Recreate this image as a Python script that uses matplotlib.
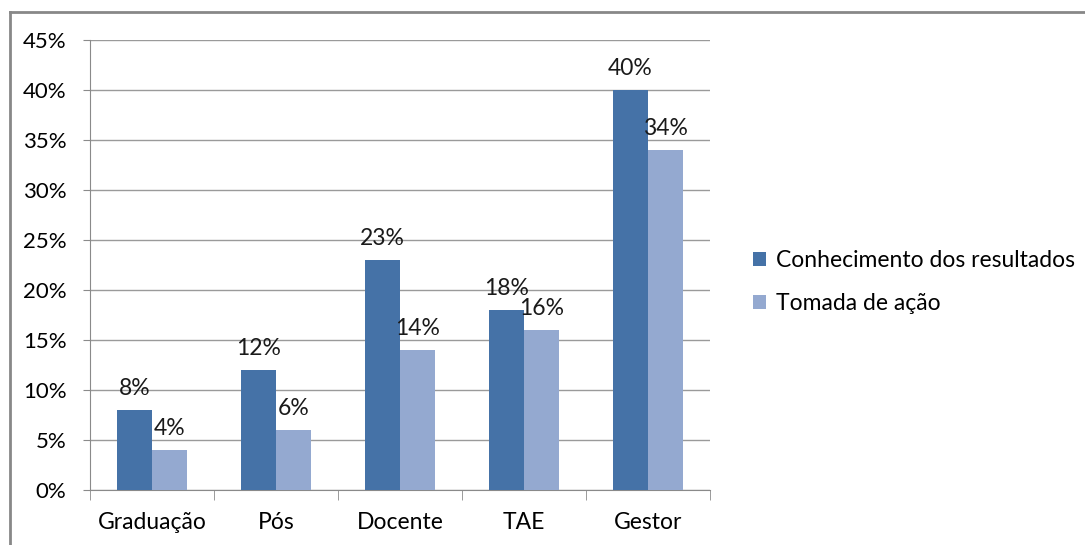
import numpy as np
import matplotlib.pyplot as plt
from matplotlib.lines import Line2D

categorias = ["Graduação", "Pós", "Docente", "TAE", "Gestor"]
conhecimento = [8, 12, 23, 18, 40]
tomada = [4, 6, 14, 16, 34]
series = ["Conhecimento dos resultados", "Tomada de ação"]

plt.rcParams['font.family'] = ['Lato', 'DejaVu Sans']

fig = plt.figure(figsize=(10.85, 5.45), dpi=100)
ax = fig.add_axes([90 / 1085, 1 - 490 / 545, 620 / 1085, 450 / 545])

x = np.arange(len(categorias))
w = 35 / 124
b1 = ax.bar(x - w / 2, conhecimento, w, color="#4572A7", label=series[0], zorder=3)
b2 = ax.bar(x + w / 2, tomada, w, color="#94A9D0", label=series[1], zorder=3)

for bars in (b1, b2):
    for r in bars:
        ax.text(r.get_x() + r.get_width() / 2, r.get_height() + 1.1,
                "%d%%" % r.get_height(), ha="center", va="bottom",
                fontsize=16.5, color="#1a1a1a", zorder=4)

ax.set_xlim(-0.5, 4.5)
ax.set_ylim(0, 45)
ax.set_yticks(range(0, 46, 5))
ax.set_yticklabels(["%d%%" % v for v in range(0, 46, 5)])
ax.yaxis.grid(True, color="#9a9a9a", linewidth=1)
ax.set_axisbelow(True)

ax.set_xticks(x)
ax.set_xticklabels(categorias)
ax.set_xticks(np.arange(-0.5, 5, 1), minor=True)
ax.tick_params(axis="x", which="major", length=0, pad=16, labelsize=16.5)
ax.tick_params(axis="x", which="minor", length=7, color="#8a8a8a")
ax.tick_params(axis="y", length=5, color="#8a8a8a", pad=12, labelsize=16)

for s in ("top", "right"):
    ax.spines[s].set_visible(False)
ax.spines["left"].set_color("#8a8a8a")
ax.spines["bottom"].set_color("#8a8a8a")

ax.legend(loc="center left", bbox_to_anchor=(732 / 1085, 1 - 282 / 545),
          bbox_transform=fig.transFigure, frameon=False, fontsize=16.5,
          handlelength=0.6, handleheight=0.6, handletextpad=0.4, labelspacing=0.95)

# moldura cinza (topo e esquerda)
fig.add_artist(Line2D([10 / 1085, 1], [1 - 12 / 545, 1 - 12 / 545], color="#888888", linewidth=2))
fig.add_artist(Line2D([10 / 1085, 10 / 1085], [0, 1 - 12 / 545], color="#888888", linewidth=2))

fig.savefig("out.png", dpi=100)
